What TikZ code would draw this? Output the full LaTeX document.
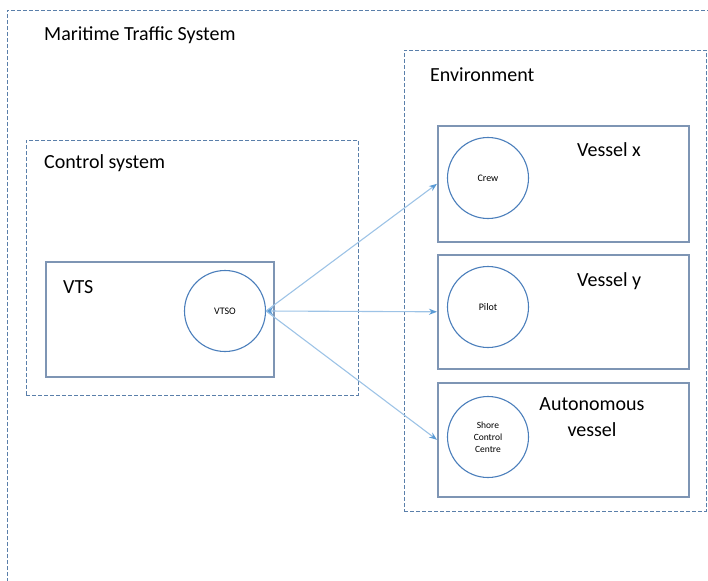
\documentclass[tikz,border=0pt]{standalone}
\usepackage{fontspec}
\setmainfont{Carlito}
\usetikzlibrary{arrows.meta}
\definecolor{dashc}{HTML}{5A7FAA}
\definecolor{boxc}{HTML}{7E95B4}
\definecolor{circc}{HTML}{4A7EBB}
\definecolor{arrc}{HTML}{9DC3E6}
\definecolor{tipc}{HTML}{5B9BD5}
\tikzset{
  group/.style={draw=dashc, line width=0.9pt, dash pattern=on 4pt off 2pt},
  unit/.style={draw=boxc, line width=1.6pt, rectangle, inner sep=0pt},
  actor/.style={draw=circc, line width=1.1pt, circle, minimum size=81pt, inner sep=0pt, font=\fontsize{10}{12}\selectfont, align=center},
  lbl/.style={font=\fontsize{20}{24}\selectfont, inner sep=0pt},
  link/.style={draw=arrc, line width=1.1pt, -{Stealth[length=8pt,width=6pt,color=tipc]}},
}
\begin{document}
\begin{tikzpicture}[x=1pt,y=-1pt]
\useasboundingbox (0,0) rectangle (708,580);
\clip (0,0) rectangle (708,580);
% outer maritime traffic system
\draw[group] (7,600) -- (7,10) -- (730,10);
\node[lbl, anchor=base west] (mts) at (44,41) {Maritime Traffic System};
% environment
\node[group, rectangle, inner sep=0pt, minimum width=302pt, minimum height=461pt, anchor=north west] (env) at (404,50) {};
\node[lbl, anchor=base west] (envl) at (430,82) {Environment};
% control system
\node[group, rectangle, inner sep=0pt, minimum width=332pt, minimum height=255pt, anchor=north west] (cs) at (26,140) {};
\node[lbl, anchor=base west] (csl) at (44,168) {Control system};
% VTS
\node[unit, minimum width=228pt, minimum height=115pt, anchor=north west] (vts) at (45,261) {};
\node[lbl, anchor=base west] (vtsl) at (63,293) {VTS};
\node[actor] (vtso) at (225,311) {VTSO};
% vessels
\node[unit, minimum width=251pt, minimum height=116pt, anchor=north west] (vx) at (437,125) {};
\node[lbl, anchor=base west] (vxl) at (577,157) {Vessel x};
\node[actor] (crew) at (488,178) {Crew};
\node[unit, minimum width=251pt, minimum height=114pt, anchor=north west] (vy) at (437,254) {};
\node[lbl, anchor=base west] (vyl) at (577,286) {Vessel y};
\node[actor] (pilot) at (488,307) {Pilot};
\node[unit, minimum width=251pt, minimum height=114pt, anchor=north west] (av) at (437,382) {};
\node[lbl, align=center, anchor=north, font=\fontsize{20}{26}\selectfont] (avl) at (592,397) {Autonomous\\vessel};
\node[actor, font=\fontsize{9.5}{12}\selectfont] (scc) at (488,437) {Shore\\Control\\Centre};
% links
\draw[link, {Stealth[length=7pt,width=8pt,color=tipc]}-{Stealth[length=8pt,width=6pt,color=tipc]}] (vtso.east) -- (vy.west);
\draw[link] (vtso.east) -- (vx.west);
\draw[link] (vtso.east) -- (av.west);
\end{tikzpicture}
\end{document}
